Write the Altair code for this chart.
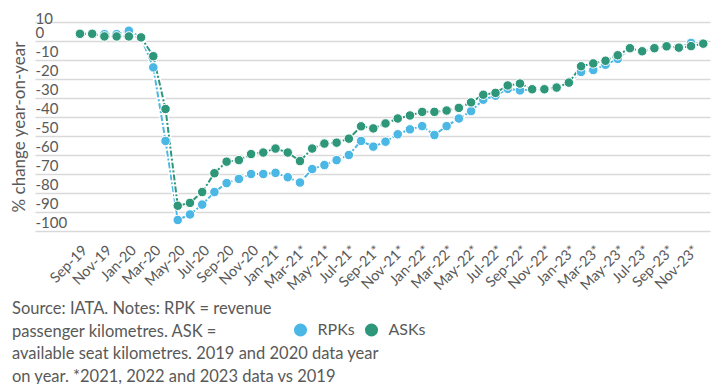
import json
import altair as alt
import pandas as pd

# Monthly categories, Sep-19 .. Dec-23
months = [d.strftime("%Y-%m") for d in pd.date_range("2019-09-01", "2023-12-01", freq="MS")]

rpk = [3.8, 3.8, 3.6, 3.6, 5.4, 1.9, -13.9, -52.6, -94.2, -91.3,
       -86.1, -79.5, -74.8, -72.6, -70.0, -70.0, -69.4, -71.7, -74.5, -67.4,
       -65.3, -62.7, -60.0, -52.6, -55.6, -53.0, -49.1, -46.5, -44.8, -49.5,
       -44.8, -40.8, -36.9, -30.9, -28.8, -25.2, -26.0, -25.4, -25.4, -24.5,
       -21.9, -16.3, -15.3, -12.5, -9.4, -3.9, -5.5, -3.8, -2.8, -3.5,
       -1.0, -1.4]
ask = [3.8, 3.8, 2.4, 2.4, 2.4, 1.9, -8.0, -35.8, -86.7, -85.2,
       -79.5, -69.6, -63.5, -62.7, -59.5, -58.7, -56.6, -58.7, -63.2, -56.6,
       -54.0, -53.5, -51.4, -44.9, -46.0, -43.4, -40.8, -39.2, -37.3, -37.3,
       -36.6, -35.2, -32.3, -28.3, -27.3, -23.4, -22.4, -25.4, -25.4, -24.5,
       -21.9, -13.3, -11.8, -10.4, -7.5, -3.8, -5.4, -3.8, -2.8, -3.5,
       -2.7, -1.4]

tick_labels = ["Sep-19", "Nov-19", "Jan-20", "Mar-20", "May-20", "Jul-20", "Sep-20", "Nov-20",
               "Jan-21*", "Mar-21*", "May-21*", "Jul-21*", "Sep-21*", "Nov-21*",
               "Jan-22*", "Mar-22*", "May-22*", "Jul-22*", "Sep-22*", "Nov-22*",
               "Jan-23*", "Mar-23*", "May-23*", "Jul-23*", "Sep-23*", "Nov-23*"]

y_ticks = [10, 0, -10, -20, -30, -40, -50, -60, -70, -80, -90, -100]
series_names = ["RPKs", "ASKs"]
colors = ["#4ab7e5", "#2e977a"]

footnote = ["Source: IATA. Notes: RPK = revenue",
            "passenger kilometres. ASK =",
            "available seat kilometres. 2019 and 2020 data year",
            "on year. *2021, 2022 and 2023 data vs 2019"]

n = len(months)
df = pd.DataFrame({
    "idx": list(range(n)) * 2,
    "month": months * 2,
    "series": [series_names[0]] * n + [series_names[1]] * n,
    "value": rpk + ask,
})

GRAY = "#595959"

x_enc = alt.X(
    "idx:Q",
    scale=alt.Scale(domain=[-3.68, 51.55], nice=False, zero=False),
    axis=alt.Axis(
        values=list(range(0, n, 2)),
        labelExpr=json.dumps(tick_labels) + "[round(datum.value / 2)]",
        labelAngle=-45, labelAlign="right", labelBaseline="middle",
        labelOffset=5, labelPadding=17, labelFontSize=14.5, labelColor=GRAY,
        labelFlush=False, labelOverlap=False,
        grid=False, domain=False, ticks=False, tickSize=0, title=None,
    ),
)
y_enc = alt.Y(
    "value:Q",
    scale=alt.Scale(domain=[-100, 10], nice=False, zero=False),
    axis=alt.Axis(
        values=y_ticks,
        labelExpr="'' + datum.value",
        labelAlign="left", labelBaseline="middle",
        labelOffset={"condition": {"test": "datum.value == 10", "value": -3.5}, "value": -8.5},
        labelPadding=0,
        labelFontSize=15, labelColor=GRAY, labelFlush=False, labelOverlap=False,
        grid=True, gridColor="#d9d9d9", gridWidth=1.5,
        domain=False, ticks=False, tickSize=0,
        title="% change year-on-year", titleFontSize=17, titleFontWeight="normal",
        titleColor=GRAY, titleX=-15.5, titleBaseline="middle", titleAlign="center",
    ),
)

color_enc = alt.Color(
    "series:N",
    scale=alt.Scale(domain=series_names, range=colors),
    legend=alt.Legend(
        title=None, orient="none", legendX=257.5, legendY=300, direction="horizontal",
        symbolType="circle", symbolSize=170, symbolStrokeWidth=0,
        labelFontSize=16, labelColor=GRAY, labelOffset=9, columnPadding=8, padding=0,
    ),
)

base = alt.Chart(df)
layers = []
for name, col in zip(series_names, colors):
    sub = base.transform_filter(alt.datum.series == name)
    layers.append(sub.mark_line(color="white", strokeWidth=4.5).encode(x=x_enc, y=y_enc, order="idx:Q"))
    layers.append(sub.mark_line(color=col, strokeWidth=2, strokeDash=[6, 2, 2, 2]).encode(x=x_enc, y=y_enc, order="idx:Q"))
for name in series_names:
    sub = base.transform_filter(alt.datum.series == name)
    layers.append(sub.mark_point(filled=True, size=90, stroke="white", strokeWidth=1, opacity=1)
                  .encode(x=x_enc, y=y_enc, color=color_enc))

chart = alt.layer(*layers).properties(
    width=675, height=209,
    autosize=alt.AutoSizeParams(type="none"),
    padding={"left": 27, "top": 14, "right": 5, "bottom": 153},
    title=alt.TitleParams(
        text=footnote, orient="bottom", anchor="start", frame="group",
        fontSize=16.5, fontWeight="normal", color=GRAY, lineHeight=22.5,
        dx=-23, offset=-37,
    ),
).configure(font="Lato").configure_view(stroke=None)

chart.save("out.html", embed_options={"renderer": "svg", "actions": False})
